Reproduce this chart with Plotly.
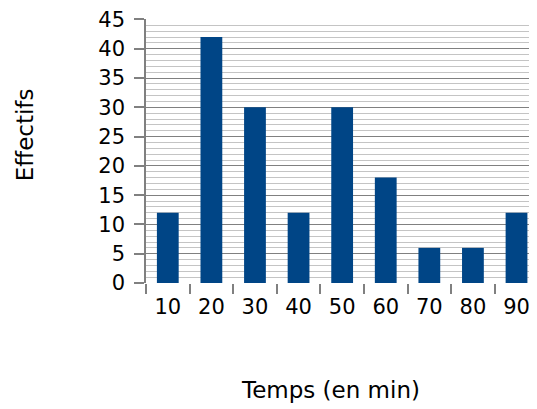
import plotly.graph_objects as go

categories = ["10", "20", "30", "40", "50", "60", "70", "80", "90"]
values = [12, 42, 30, 12, 30, 18, 6, 6, 12]
y_ticks = [0, 5, 10, 15, 20, 25, 30, 35, 40, 45]

FONT = "DejaVu Sans"
OFF = 8  # page body margin
W, H = 537 - OFF, 409 - OFF
PL, PT, PB, PR = 146, 15, 283, 537  # plot area in window pixels
L, T = PL - OFF, PT - OFF
B = H - (PB - OFF)
R = 0
PW, PH = (PR - PL), (PB - PT)

fig = go.Figure(go.Bar(x=categories, y=values, marker=dict(color="#004586", line=dict(width=0)), width=0.5))

fig.update_layout(
    width=W, height=H,
    margin=dict(l=L, r=R, t=T, b=B, pad=0),
    paper_bgcolor="white", plot_bgcolor="white",
    showlegend=False,
    font=dict(family=FONT, color="#000000"),
)
fig.update_xaxes(
    type="category", range=[-0.5, 8.47],
    showgrid=False, zeroline=False,
    showline=False,
    ticks="outside", tickson="boundaries", ticklen=10, tickwidth=1.5, tickcolor="#808080",
    tickfont=dict(size=21, family=FONT), ticklabelstandoff=9,
)
fig.update_yaxes(
    range=[0, 45.08], tickvals=y_ticks,
    showgrid=True, gridcolor="#808080", gridwidth=1.2,
    minor=dict(dtick=1, showgrid=True, gridcolor="#c4c4c4", gridwidth=1),
    zeroline=False,
    showline=True, linecolor="#808080", linewidth=1.5,
    ticks="outside", ticklen=10, tickwidth=1.5, tickcolor="#808080",
    tickfont=dict(size=21, family=FONT), ticklabelstandoff=5,
    ticklabeloverflow="allow",
)
fig.add_annotation(text="Effectifs", xref="paper", yref="paper", x=(25 - PL) / PW, y=(PB - 133) / PH,
                   showarrow=False, textangle=-90, font=dict(size=23, family=FONT), xanchor="center", yanchor="middle")
fig.add_annotation(text="Temps (en min)", xref="paper", yref="paper", x=(330 - PL) / PW, y=-(392 - PB) / PH,
                   showarrow=False, font=dict(size=23, family=FONT), xanchor="center", yanchor="middle")

fig.write_html("out.html")
